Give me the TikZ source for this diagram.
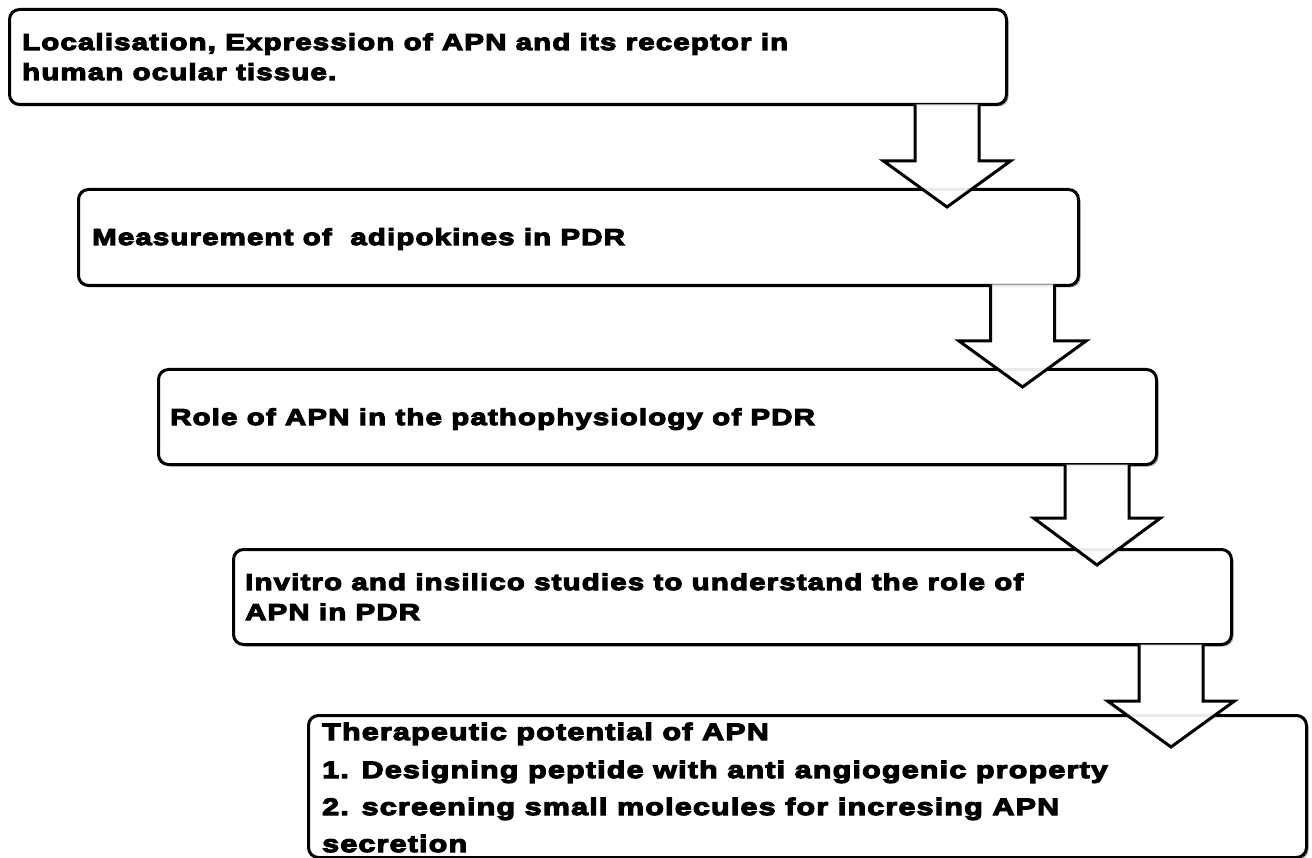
\documentclass[tikz,border=0pt]{standalone}
\usepackage{fontspec}
\newfontfamily\blk{Liberation Sans Bold}[FakeBold=5,FakeStretch=1.28,LetterSpace=5]
\usetikzlibrary{shadows}
\tikzset{
  stepbox/.style={draw=black, line width=3pt, rounded corners=10pt, fill=white,
    drop shadow={shadow xshift=2pt, shadow yshift=-2pt, opacity=0.35, fill=black}},
  lbl/.style={anchor=base west, inner sep=0pt, font=\blk\fontsize{23}{30}\selectfont},
  lblb/.style={lbl, font=\blk\fontsize{23.8}{30}\selectfont},
  blockarrow/.style={draw=black, line width=3pt, fill=white, fill opacity=0.92, line join=miter}
}
\newcommand{\blockarr}[4]{% center x, top y, head y, tip y
  \draw[blockarrow] (#1-32,#2+1.5) -- (#1-32,#3) -- (#1-63.5,#3) -- (#1,#4) -- (#1+63.5,#3) -- (#1+32,#3) -- (#1+32,#2+1.5);
}
\begin{document}
\begin{tikzpicture}[x=1pt,y=-1pt]
\useasboundingbox (0,0) rectangle (1312,858);
% boxes
\node[stepbox, minimum width=997pt, minimum height=95pt, anchor=north west] (b1) at (8,8) {};
\node[stepbox, minimum width=1000pt, minimum height=96pt, anchor=north west] (b2) at (77,188) {};
\node[stepbox, minimum width=998pt, minimum height=95pt, anchor=north west] (b3) at (157,368) {};
\node[stepbox, minimum width=998pt, minimum height=95pt, anchor=north west] (b4) at (232,548) {};
\node[stepbox, minimum width=998pt, minimum height=142pt, anchor=north west] (b5) at (307,714) {};
% texts
\node[lbl] (t1a) at (22,50) {Localisation, Expression of APN and its receptor in};
\node[lbl] (t1b) at (22,80) {human ocular tissue.};
\node[lbl] (t2) at (92,245) {Measurement of\ \ adipokines in PDR};
\node[lbl] (t3) at (170,425) {Role of APN in the pathophysiology of PDR};
\node[lbl] (t4a) at (245,590) {Invitro and insilico studies to understand the role of};
\node[lbl] (t4b) at (245,620) {APN in PDR};
\node[lblb] (t5a) at (322,740) {Therapeutic potential of APN};
\node[lblb] (t5b) at (322,778) {1. Designing peptide with anti angiogenic property};
\node[lblb] (t5c) at (322,815) {2. screening small molecules for incresing APN};
\node[lblb] (t5d) at (322,852) {secretion};
% arrows
\blockarr{947}{103}{161}{207}
\blockarr{1022.5}{283}{341}{387}
\blockarr{1097}{463}{518}{565}
\blockarr{1171}{643}{701}{747}
\end{tikzpicture}
\end{document}
